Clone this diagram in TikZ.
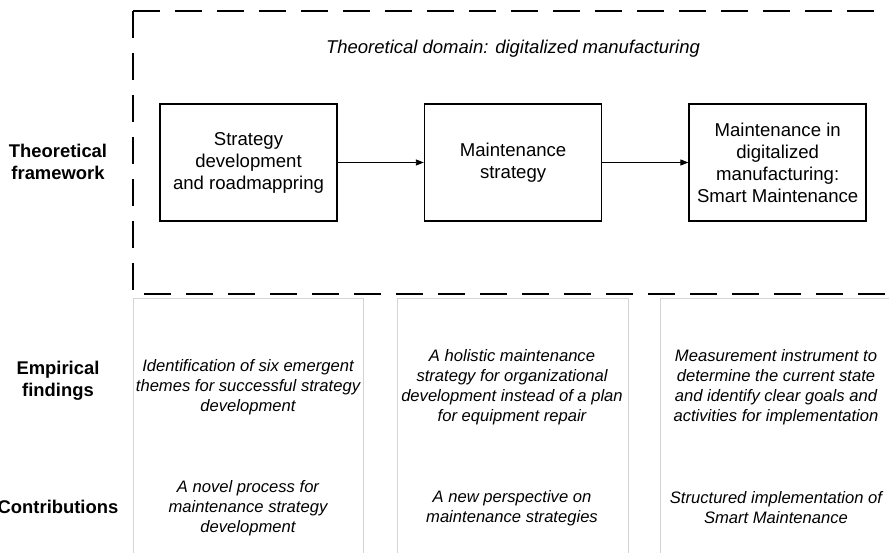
\documentclass[tikz,border=0pt]{standalone}
\usepackage{fontspec}
\setmainfont{Liberation Sans}
\usetikzlibrary{arrows.meta, positioning}

\begin{document}
\begin{tikzpicture}[x=1pt, y=-1pt, node distance=86pt, >={Triangle[length=8pt, width=6pt]},
    stage/.style={rectangle, draw, line width=1.6pt, minimum width=177pt, minimum height=117pt, align=center, font=\fontsize{18.6}{22}\selectfont},
    rowlabel/.style={align=center, font=\fontsize{18.4}{22}\selectfont\bfseries},
    finding/.style={align=center, font=\fontsize{16.6}{20}\selectfont\itshape},
    column/.style={draw=black!17, line width=0.6pt},
    frame/.style={dash pattern=on 27pt off 15pt, line width=1.8pt}]
    \useasboundingbox (0,0) rectangle (889,553);

    % columns of the lower part
    \draw[column] (133,298) rectangle (363,570);
    \draw[column] (397,298) rectangle (628,570);
    \draw[column] (660,298) rectangle (892,570);

    % theoretical domain
    \draw[frame] (133,11) -- (900,11);
    \draw[frame] (133,11) -- (133,294) -- (900,294);
    \node[font=\fontsize{18.5}{22}\selectfont\itshape] (domain) at (513,49) {Theoretical domain: digitalized manufacturing};

    \node[stage] (strategydev) at (248.5,162.5) {Strategy\\development\\and roadmappring};
    \node[stage, right=of strategydev] (mstrategy) {Maintenance\\strategy};
    \node[stage, right=of mstrategy] (smartmaint) {Maintenance in\\digitalized\\manufacturing:\\Smart Maintenance};

    \draw[->, line width=0.9pt] (strategydev) -- (mstrategy);
    \draw[->, line width=0.9pt] (mstrategy) -- (smartmaint);

    % row labels
    \node[rowlabel] (framework) at (58,162) {Theoretical\\framework};
    \node[rowlabel] (empirical) at (58,381) {Empirical\\findings};
    \node[rowlabel] (contrib) at (58,507) {Contributions};

    % findings
    \node[finding] (themes) at (248,387) {Identification of six emergent\\themes for successful strategy\\development};
    \node[finding] (holistic) at (512,387) {A holistic maintenance\\strategy for organizational\\development instead of a plan\\for equipment repair};
    \node[finding] (instrument) at (776,387) {Measurement instrument to\\determine the current state\\and identify clear goals and\\activities for implementation};

    % contributions
    \node[finding] (process) at (248,508) {A novel process for\\maintenance strategy\\development};
    \node[finding] (perspective) at (512,508) {A new perspective on\\maintenance strategies};
    \node[finding] (structured) at (776,508) {Structured implementation of\\Smart Maintenance};
\end{tikzpicture}
\end{document}
